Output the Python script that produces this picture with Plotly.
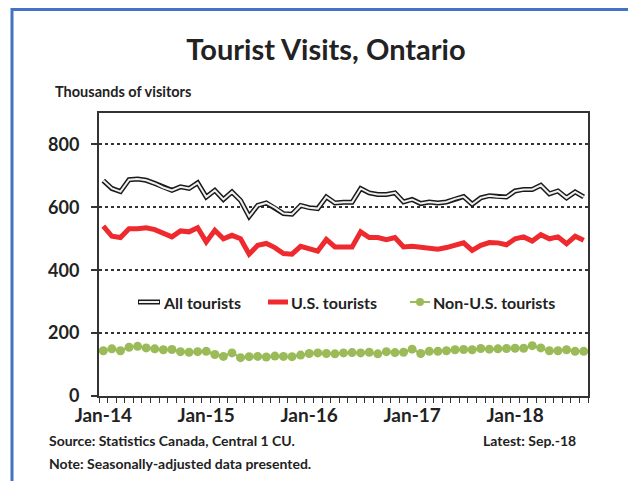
import plotly.graph_objects as go

months = [f"{m}-{y}" for y in range(14, 19) for m in
          ["Jan", "Feb", "Mar", "Apr", "May", "Jun", "Jul", "Aug", "Sep", "Oct", "Nov", "Dec"]][:57]

all_tourists = [685, 660, 650, 688, 690, 686, 676, 663, 654, 665, 660, 678,
                633, 654, 625, 649, 622, 571, 606, 614, 599, 580, 578, 606,
                599, 596, 633, 614, 616, 616, 660, 646, 641, 641, 646, 617,
                625, 612, 617, 614, 617, 627, 634, 610, 630, 637, 634, 633,
                652, 657, 657, 670, 643, 652, 630, 649, 633]
us_tourists = [540, 508, 504, 532, 532, 535, 529, 516, 506, 525, 522, 535,
               490, 527, 500, 511, 500, 451, 479, 485, 472, 453, 451, 476,
               467, 461, 498, 474, 474, 474, 522, 504, 504, 497, 504, 474,
               476, 473, 471, 467, 472, 479, 487, 463, 479, 488, 487, 481,
               500, 506, 493, 513, 500, 506, 484, 508, 495]
non_us_tourists = [144, 150, 144, 155, 158, 153, 150, 147, 148, 141, 139, 141,
                   142, 132, 126, 137, 122, 125, 126, 124, 127, 126, 125, 130,
                   135, 137, 135, 134, 137, 138, 137, 139, 134, 141, 138, 139,
                   149, 135, 142, 142, 144, 147, 148, 147, 151, 149, 150, 151,
                   152, 152, 160, 153, 144, 144, 147, 142, 142]

y_ticks = [0, 200, 400, 600, 800]
x_label_every = 12

# page body has an 8px margin, so the figure is drawn 8px smaller and coordinates
# below are given in window pixels
OFF = 8
W, H = 636, 481
L, R, T, B = 99, 588, 113, 396

def px(x):
    return (x - L) / (R - L)

def py(y):
    return (B - y) / (B - T)

x = list(range(len(months)))
FONT = "Lato"
TXT = "#222222"

fig = go.Figure()
fig.add_trace(go.Scatter(x=x, y=all_tourists, mode="lines", name="All tourists",
                         line=dict(color="#1a1a1a", width=5), showlegend=False))
fig.add_trace(go.Scatter(x=x, y=all_tourists, mode="lines", name="All tourists",
                         line=dict(color="#f0f0f0", width=2), showlegend=False))
fig.add_trace(go.Scatter(x=x, y=us_tourists, mode="lines", name="U.S. tourists",
                         line=dict(color="#EE2A2E", width=5), showlegend=False))
fig.add_trace(go.Scatter(x=x, y=non_us_tourists, mode="lines+markers", name="Non-U.S. tourists",
                         line=dict(color="#9BBB59", width=2),
                         marker=dict(color="#9BBB59", size=9), showlegend=False))

shapes = []
annotations = []
# outer blue frame (top and left)
shapes.append(dict(type="line", xref="paper", yref="paper", x0=px(11), x1=px(W + 5),
                   y0=py(9.5), y1=py(9.5), line=dict(color="#4472C4", width=3)))
shapes.append(dict(type="line", xref="paper", yref="paper", x0=px(12), x1=px(12),
                   y0=py(8), y1=py(H + 5), line=dict(color="#4472C4", width=3)))

# legend
ly = py(302)
shapes.append(dict(type="line", xref="paper", yref="paper", x0=px(138), x1=px(160),
                   y0=ly, y1=ly, line=dict(color="#1a1a1a", width=5)))
shapes.append(dict(type="line", xref="paper", yref="paper", x0=px(139), x1=px(159),
                   y0=ly, y1=ly, line=dict(color="#f0f0f0", width=2)))
shapes.append(dict(type="line", xref="paper", yref="paper", x0=px(268), x1=px(288),
                   y0=ly, y1=ly, line=dict(color="#EE2A2E", width=5)))
shapes.append(dict(type="line", xref="paper", yref="paper", x0=px(410), x1=px(430),
                   y0=ly, y1=ly, line=dict(color="#9BBB59", width=2)))
shapes.append(dict(type="circle", xref="paper", yref="paper", x0=px(416), x1=px(424),
                   y0=py(306), y1=py(298), fillcolor="#9BBB59", line=dict(width=0)))
for xx, t in [(161, "All tourists"), (289, "U.S. tourists"), (431, "Non-U.S. tourists")]:
    annotations.append(dict(text=f"<b>{t}</b>", xref="paper", yref="paper", x=px(xx), y=ly,
                            xanchor="left", yanchor="middle", showarrow=False,
                            font=dict(family=FONT, size=16, color=TXT)))

annotations.append(dict(text="<b>Thousands of visitors</b>", xref="paper", yref="paper",
                        x=px(53), y=py(92), xanchor="left", yanchor="middle", showarrow=False,
                        font=dict(family=FONT, size=14.5, color=TXT)))
annotations.append(dict(text="<b>Source: Statistics Canada, Central 1 CU.</b>", xref="paper", yref="paper",
                        x=px(47), y=py(440), xanchor="left", yanchor="middle", showarrow=False,
                        font=dict(family=FONT, size=14, color=TXT)))
annotations.append(dict(text="<b>Latest: Sep.-18</b>", xref="paper", yref="paper",
                        x=px(578), y=py(440), xanchor="right", yanchor="middle", showarrow=False,
                        font=dict(family=FONT, size=14, color=TXT)))
annotations.append(dict(text="<b>Note: Seasonally-adjusted data presented.</b>", xref="paper", yref="paper",
                        x=px(47), y=py(463), xanchor="left", yanchor="middle", showarrow=False,
                        font=dict(family=FONT, size=14, color=TXT)))

fig.update_layout(
    width=W - OFF, height=H - OFF,
    margin=dict(l=L - OFF, r=W - R, t=T - OFF, b=H - B, pad=0),
    paper_bgcolor="white", plot_bgcolor="white",
    title=dict(text="<b>Tourist Visits, Ontario</b>", x=px(326), xref="paper", xanchor="center",
               y=1 - (50 - OFF) / (H - OFF), yanchor="middle",
               font=dict(family=FONT, size=29, color=TXT)),
    shapes=shapes, annotations=annotations,
    xaxis=dict(range=[-0.5, len(months) - 0.5], tickmode="array",
               tickvals=x[::x_label_every], ticktext=[f"<b>{m}</b>" for m in months[::x_label_every]],
               ticks="", showgrid=False, zeroline=False,
               showline=True, linecolor="#333333", linewidth=2, mirror=True,
               tickfont=dict(family=FONT, size=19, color=TXT), ticklabelstandoff=1,
               minor=dict(ticks="outside", tick0=-0.5, dtick=1, ticklen=5,
                          tickcolor="#333333", tickwidth=1, showgrid=False)),
    yaxis=dict(range=[0, 900], tickmode="array", tickvals=y_ticks,
               ticktext=[f"<b>{v}</b>" for v in y_ticks],
               ticks="outside", ticklen=6, tickcolor="#333333", tickwidth=2,
               showgrid=True, gridcolor="#333333", griddash="dot", gridwidth=1.5,
               zeroline=False, showline=True, linecolor="#333333", linewidth=2, mirror=True,
               tickfont=dict(family=FONT, size=18, color=TXT), ticklabelstandoff=8),
)

fig.write_html("out.html")
